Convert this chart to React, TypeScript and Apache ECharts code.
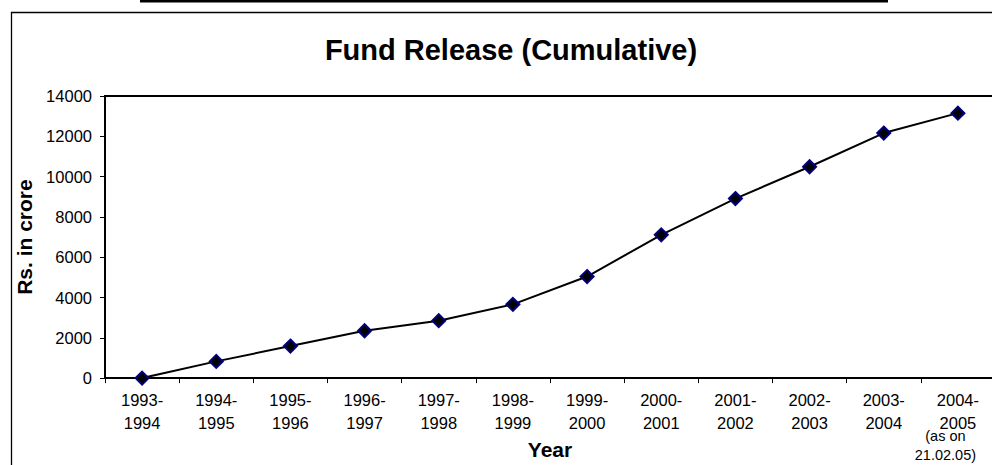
import React, { useEffect, useRef } from "react";
import * as echarts from "echarts";

const categories = [
  "1993-\n1994",
  "1994-\n1995",
  "1995-\n1996",
  "1996-\n1997",
  "1997-\n1998",
  "1998-\n1999",
  "1999-\n2000",
  "2000-\n2001",
  "2001-\n2002",
  "2002-\n2003",
  "2003-\n2004",
  "2004-\n2005",
];
const fundRelease = [0, 830, 1590, 2350, 2850, 3660, 5040, 7110, 8910, 10490, 12160, 13150];
const titleText = "Fund Release (Cumulative)";
const yName = "Rs. in crore";
const xName = "Year";
const noteLines = ["(as on", "21.02.05)"];

const FONT = "'Liberation Sans', Arial, sans-serif";

export default function App() {
  const ref = useRef<HTMLDivElement>(null);
  useEffect(() => {
    document.body.style.margin = "0";
    const chart = echarts.init(ref.current!, null, { renderer: "svg" });
    const staticGraphics: any[] = [
      {
        type: "rect",
        shape: { x: 140, y: 0, width: 748, height: 2.5 },
        style: { fill: "#000" },
        silent: true,
      },
      {
        type: "rect",
        shape: { x: 11.5, y: 12.5, width: 1200, height: 800 },
        style: { fill: "none", stroke: "#000", lineWidth: 1.3 },
        silent: true,
        z: -1,
      },
    ];
    chart.setOption({
      animation: false,
      backgroundColor: "#fff",
      textStyle: { fontFamily: FONT },
      title: {
        text: titleText,
        left: 506,
        top: 30,
        textAlign: "center",
        textStyle: { fontFamily: FONT, fontSize: 29, fontWeight: "bold", color: "#000" },
      },
      grid: {
        left: 105,
        top: 96,
        right: 1,
        bottom: 85,
        show: true,
        borderColor: "#000",
        borderWidth: 2,
        backgroundColor: "transparent",
      },
      xAxis: {
        type: "category",
        data: categories,
        boundaryGap: true,
        name: xName,
        nameLocation: "middle",
        nameGap: 56,
        nameTextStyle: { fontFamily: FONT, fontSize: 21, fontWeight: "bold", color: "#000" },
        axisLine: { lineStyle: { color: "#000", width: 2 } },
        axisTick: { show: true, alignWithLabel: false, length: 5, lineStyle: { color: "#000", width: 1 } },
        axisLabel: {
          interval: 0,
          margin: 10,
          color: "#000",
          fontFamily: FONT,
          fontSize: 16.5,
          lineHeight: 23,
        },
        splitLine: { show: false },
      },
      yAxis: {
        type: "value",
        min: 0,
        max: 14000,
        interval: 2000,
        name: yName,
        nameLocation: "middle",
        nameGap: 54,
        nameRotate: 90,
        nameTextStyle: { fontFamily: FONT, fontSize: 21, fontWeight: "bold", color: "#000" },
        axisLine: { show: true, lineStyle: { color: "#000", width: 2 } },
        axisTick: { show: true, length: 5, lineStyle: { color: "#000", width: 1 } },
        axisLabel: {
          margin: 13,
          color: "#000",
          fontFamily: FONT,
          fontSize: 16.5,
          formatter: (v: number) => String(v),
        },
        splitLine: { show: false },
      },
      series: [
        {
          type: "line",
          data: fundRelease,
          symbol: "diamond",
          symbolSize: 13,
          lineStyle: { color: "#000", width: 2 },
          itemStyle: { color: "#000", borderColor: "#000080", borderWidth: 2 },
          z: 5,
        },
      ],
      graphic: staticGraphics,
    });
    const px = chart.convertToPixel({ xAxisIndex: 0 }, categories[categories.length - 1]) as number;
    const py = chart.convertToPixel({ yAxisIndex: 0 }, 0) as number;
    chart.setOption({
      graphic: [
        ...staticGraphics,
        {
          type: "text",
          x: px - 12.5,
          y: py + 49,
          style: {
            text: noteLines.join("\n"),
            align: "center",
            verticalAlign: "top",
            fontFamily: FONT,
            fontSize: 14.5,
            lineHeight: 18.5,
            fill: "#000",
          },
          silent: true,
        },
      ],
    });
    return () => chart.dispose();
  }, []);
  return (
    <div style={{ width: 992, height: 465, overflow: "hidden", position: "relative" }}>
      <div ref={ref} style={{ width: 996, height: 465 }} />
    </div>
  );
}
